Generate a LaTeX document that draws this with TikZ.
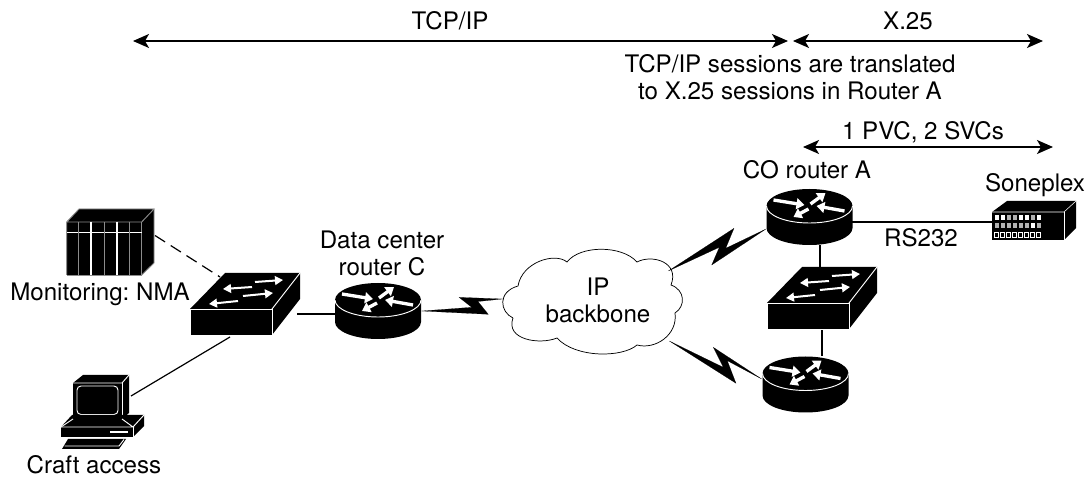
\documentclass[tikz,border=0pt]{standalone}
\usepackage{fontspec}
\usepackage{tikz}
\usetikzlibrary{arrows.meta}
\setmainfont{TeX Gyre Heros}

\tikzset{
    hub/.style={inner sep=0, outer sep=0, minimum width=#1},
    txt/.style={align=center, inner sep=0, font=\fontsize{18.1}{20.2}\selectfont\frenchspacing},
    span/.style={line width=1pt, {Stealth[length=12pt, width=10.5pt, inset=3pt]}-{Stealth[length=12pt, width=10.5pt, inset=3pt]}},
    wire/.style={line width=0.9pt},
    thickwire/.style={line width=1.6pt},
    flash/.style={fill=black, draw=black, line width=0.1pt},
    edge/.style={white, line width=0.7pt},
    dimedge/.style={black!45, line width=0.7pt},
    wharrow/.style={white, line width=2.5pt, -{Triangle[length=6pt, width=8pt]}},
    swarrow/.style={white, line width=1.5pt, -{Triangle[length=6pt, width=6.5pt]}},
    router/.pic={
        \fill (-43,-11) -- (-43,11) arc[start angle=180, end angle=360, x radius=32.25pt, y radius=12.75pt] -- (43,-11) arc[start angle=0, end angle=180, x radius=32.25pt, y radius=12.75pt];
        \draw[edge] (-43,-11) arc[start angle=180, end angle=360, x radius=32.25pt, y radius=12.75pt];
        \draw[wharrow] (-36,-17) -- (-5,-12);
        \draw[wharrow] (1,-13) -- (16,-24);
        \draw[wharrow] (35,-6) -- (7,-11);
        \draw[wharrow] (-1,-8) -- (-16,0);
    },
    switchbox/.pic={
        \fill (-55,13) -- (-55,-13) -- (-20,-49) -- (55,-49) -- (55,-23) -- (27,13) -- cycle;
        \draw[edge] (-55,13) -- (-55,-13) -- (27,-13) -- (27,13) -- cycle;
        \draw[edge] (27,-13) -- (55,-49);
        \draw[swarrow] (10,-40) -- (38,-42);
        \draw[swarrow] (7,-35) -- (-22,-33);
        \draw[swarrow] (-2,-26) -- (28,-29);
        \draw[swarrow] (-7,-21) -- (-36,-18);
    },
}

\begin{document}
\begin{tikzpicture}[x=0.75pt, y=-0.75pt]
    \useasboundingbox (0,0) rectangle (1090,477);

    % arrows along the top
    \coordinate (tcpl) at (133,41);
    \coordinate (tcpr) at (788,41);
    \coordinate (xl) at (793,41);
    \coordinate (xr) at (1043,41);
    \coordinate (pvcl) at (803,147);
    \coordinate (pvcr) at (1053,147);
    \draw[span] (tcpl) -- (tcpr);
    \draw[span] (xl) -- (xr);
    \draw[span] (pvcl) -- (pvcr);
    \node[txt] (tcp) at (450,21) {TCP/IP};
    \node[txt] (x25) at (908,21) {X.25};
    \node[txt] (note) at (790,77) {TCP/IP sessions are translated\\to X.25 sessions in Router A};
    \node[txt] (pvc) at (923,132) {1 PVC, 2 SVCs};

    % devices
    \node[hub=88, minimum height=66] (nma) at (110.5,242) {};
    \node[hub=110, minimum height=62] (swl) at (245,322) {};
    \node[hub=86, minimum height=56] (rtc) at (378,311) {};
    \node[hub=180, minimum height=104] (cloud) at (592,301) {};
    \node[hub=86, minimum height=56] (rta) at (809.5,217) {};
    \node[hub=110, minimum height=62] (swr) at (822,316) {};
    \node[hub=86, minimum height=56] (rtb) at (805.5,384.5) {};
    \node[hub=84, minimum height=39] (son) at (1034,221) {};
    \node[hub=84, minimum height=75] (pc) at (102,412) {};

    \coordinate (swlnw) at (220,277);
    \coordinate (swlsw) at (230,337);
    \coordinate (nmaout) at (155,235.5);
    \coordinate (pcout) at (131,396);
    \coordinate (swlout) at (297,314);
    \coordinate (rtcin) at (335,314);
    \coordinate (rtaout) at (852,221.7);
    \coordinate (sonin) at (992,221.7);
    \coordinate (rtadown) at (820,245);
    \coordinate (swrup) at (820,267);
    \coordinate (swrdown) at (821.7,329);
    \coordinate (rtbup) at (821.7,356);

    \draw[wire, dashed, dash pattern=on 9pt off 5pt] (nmaout) -- (swlnw);
    \draw[wire] (swlsw) -- (pcout);
    \draw[wire] (swlout) -- (rtcin);
    \draw[thickwire] (rtaout) -- (sonin);
    \draw[thickwire] (rtadown) -- (swrup);
    \draw[thickwire] (swrdown) -- (rtbup);

    \pic at (swl) {switchbox};
    \pic at (swr) {switchbox};
    \pic at (rtc) {router};
    \pic at (rta) {router};
    \pic at (rtb) {router};

    % rack
    \fill (66.7,275) -- (66.7,222) -- (79,209) -- (154,209) -- (154,263) -- (141.7,275) -- cycle;
    \draw[dimedge] (66.7,275) -- (66.7,222) -- (79,209) -- (154,209) -- (141.7,222) -- (66.7,222);
    \draw[dimedge] (141.7,222) -- (141.7,275) -- (66.7,275);
    \draw[dimedge] (154,209) -- (154,263) -- (141.7,275);
    \draw[edge] (66.7,232.3) -- (141.7,232.3);
    \foreach \x in {78,104,129} \draw[dimedge] (\x,222) -- (\x,275);
    \foreach \x in {91,117} \draw[edge, line width=0.9pt] (\x,222) -- (\x,275);

    % terminal
    \fill (73,419) -- (73,383) -- (83,375) -- (129,375) -- (129,413) -- (122,419) -- cycle;
    \draw[edge] (73,383) -- (122,383) -- (129,375);
    \draw[edge] (122,383) -- (122,419);
    \draw[edge, rounded corners=3pt] (77,386) rectangle (118,414.5);
    \fill (61,437) -- (61,427) -- (72,415) -- (144,415) -- (144,426) -- (133,437) -- cycle;
    \fill (73,419) -- (73,423) -- (122,423) -- (122,419) -- cycle;
    \draw[edge] (61,427) -- (73,419);
    \draw[edge] (122,419) -- (133,427) -- (61,427);
    \draw[edge] (133,427) -- (133,437);
    \draw[edge] (133,427) -- (144,415);
    \draw[edge, line width=1pt] (110,432) -- (128,432);
    \fill (62,449) -- (68,439) -- (126,439) -- (119,449) -- cycle;
    \draw[edge] (64.5,446) -- (119,446) -- (124,439.5);

    % soneplex
    \fill (992,240) -- (992,212) -- (1007,201) -- (1076,201) -- (1076,228) -- (1064,240) -- cycle;
    \draw[edge, line width=0.4pt] (992,212) -- (1064,212) -- (1076,201);
    \draw[edge, line width=0.4pt] (1064,212) -- (1064,240);
    \foreach \x/\c in {0/white,1/white,2/black!30,3/black!30,4/white,5/white,6/black!30,7/white}
        \fill[\c] (994.5+6*\x,215) rectangle +(4.6,5);
    \foreach \x/\c in {0/black!30,1/black!30,2/black!30,3/black!30,4/black!30,5/black!30,6/white,7/black!30}
        \fill[\c] (994.5+6*\x,223) rectangle +(4.6,5.5);
    \foreach \x in {0,...,7}
        \draw[white, line width=0.5pt] (994.8+6*\x,232.5) rectangle +(4,4.8);

    % cloud
    \draw[line width=0.55pt] (513,318) .. controls (500,312) and (497,292) .. (518,286)
        .. controls (522,262) and (555,252) .. (567,262)
        .. controls (580,245) and (622,245) .. (637,262)
        .. controls (652,254) and (680,262) .. (671,285)
        .. controls (685,290) and (686,306) .. (675,313)
        .. controls (678,335) and (655,350) .. (637,345)
        .. controls (622,358) and (575,358) .. (557,338)
        .. controls (540,345) and (505,340) .. (513,318);
    \node[txt] (ipb) at (598,300) {IP\\backbone};

    % serial links
    \coordinate (rtcser) at (421.7,311);
    \coordinate (cloudw) at (502.7,299);
    \coordinate (cloudne) at (668.3,271);
    \coordinate (rtaser) at (766,229);
    \coordinate (cloudse) at (669.3,341);
    \coordinate (rtbser) at (761.7,379);
    \draw[flash] (rtcser) -- (471.7,307.3) -- (459,297.3) -- (cloudw) -- (478,301.5) -- (488.3,314.3) -- cycle;
    \draw[flash] (cloudne) -- (734,228.3) -- (725.7,248.3) -- (rtaser) -- (711.7,265) -- (719.3,247.3) -- cycle;
    \draw[flash] (cloudse) -- (723.3,367.3) -- (713.3,347.3) -- (rtbser) -- (727.3,360.7) -- (736,383.3) -- cycle;

    % labels
    \node[txt] (nmalab) at (100,294) {Monitoring: NMA};
    \node[txt] (pclab) at (94,464.5) {Craft access};
    \node[txt] (rtclab) at (382,253.5) {Data center\\router C};
    \node[txt] (rtalab) at (807,170) {CO router A};
    \node[txt] (sonlab) at (1035,185) {Soneplex};
    \node[txt] (rs) at (921,238) {RS232};
\end{tikzpicture}
\end{document}
